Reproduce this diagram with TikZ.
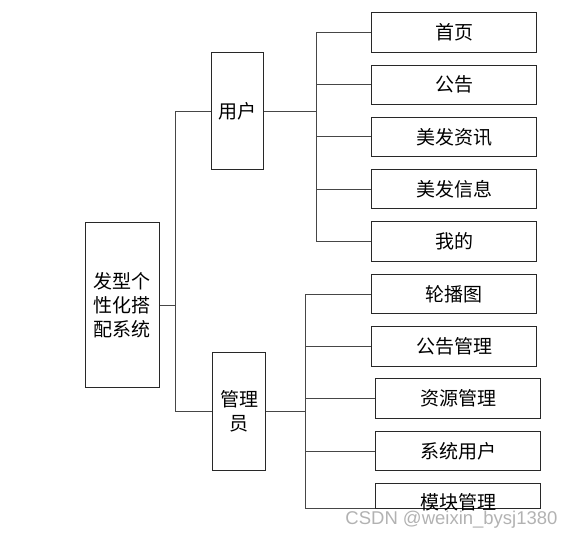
\documentclass[tikz,border=0pt]{standalone}
\usepackage{fontspec}
\setmainfont{Noto Sans CJK SC}
\newfontfamily\wmfont{Liberation Sans}
\usetikzlibrary{positioning}
\definecolor{boxLine}{RGB}{40,40,40}
\definecolor{linkLine}{RGB}{70,70,70}

\tikzset{
  box/.style={draw=boxLine,line width=0.9pt,inner sep=0pt,align=center,
    font=\fontsize{19}{24}\selectfont},
  leaf/.style={box,minimum width=165.4pt,minimum height=39.3pt},
  mid/.style={box,minimum width=52.5pt,minimum height=117.5pt},
  link/.style={draw=linkLine,line width=0.9pt}
}

\begin{document}
\begin{tikzpicture}[x=1pt,y=-1pt]
  \useasboundingbox (0,0) rectangle (576,538);
  % root
  \node[box,minimum width=74pt,minimum height=165pt] (sys) at (122.3,305.4) {发型个\\性化搭\\配系统};
  % second level
  \node[mid] (user) at (237.5,111) {用户};
  \node[mid] (admin) at (239,411.5) {管理\\员};
  % user leaves
  \node[leaf] (u1) at (454,32.4) {首页};
  \node[leaf] (u2) at (454,84.7) {公告};
  \node[leaf] (u3) at (454,136.9) {美发资讯};
  \node[leaf] (u4) at (454,189.2) {美发信息};
  \node[leaf] (u5) at (454,241.4) {我的};
  % admin leaves
  \node[leaf] (a1) at (454,294.2) {轮播图};
  \node[leaf] (a2) at (454,346.4) {公告管理};
  \node[leaf] (a3) at (458.2,398.4) {资源管理};
  \node[leaf] (a4) at (458.2,451.2) {系统用户};
  \node[leaf,minimum height=25pt] (a5) at (458.2,496.2) {};
  \node[font=\fontsize{19}{24}\selectfont,inner sep=0pt] (a5txt) at (458.2,502.5) {模块管理};
  % bus lines
  \coordinate (trunk) at (175,0);
  \coordinate (ubus) at (316,0);
  \coordinate (abus) at (305.3,0);
  \draw[link] (sys.east) -- (sys.east -| trunk);
  \draw[link] (user.west) -- (user.west -| trunk) |- (admin.west);
  \draw[link] (user.east) -- (user.east -| ubus);
  \draw[link] (u1.west -| ubus) -- (u5.west -| ubus);
  \foreach \n in {u1,u2,u3,u4,u5}
    \draw[link] (\n.west) -- (\n.west -| ubus);
  \draw[link] (admin.east) -- (admin.east -| abus);
  \draw[link] (a1.west -| abus) -- ([yshift=-12.3pt]a5.west -| abus) -- ([yshift=-12.3pt]a5.west);
  \foreach \n in {a1,a2,a3,a4}
    \draw[link] (\n.west) -- (\n.west -| abus);
  % watermark
  \node[font=\wmfont\fontsize{18.5}{20}\selectfont,text=black!30,inner sep=0pt] (mark) at (451.5,519.5) {CSDN @weixin\_bysj1380};
\end{tikzpicture}
\end{document}
